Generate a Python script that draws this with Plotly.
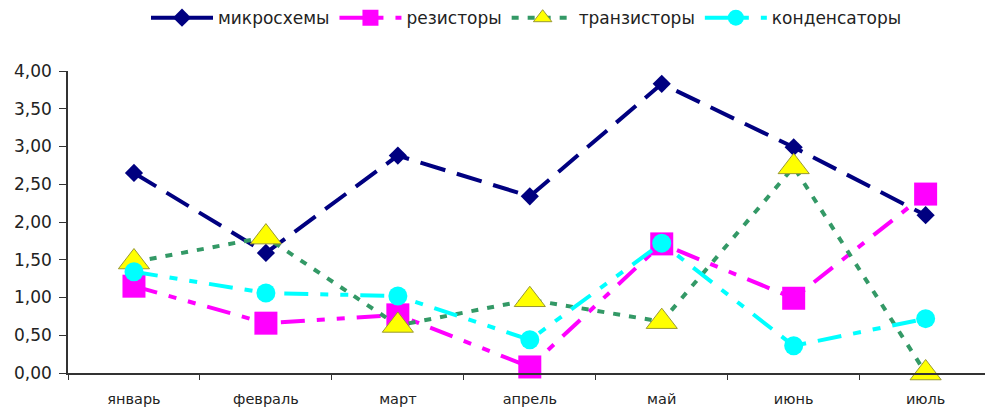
import plotly.graph_objects as go

months = ["январь", "февраль", "март", "апрель", "май", "июнь", "июль"]
mikroshemy = [2.65, 1.59, 2.88, 2.34, 3.83, 2.99, 2.09]
rezistory = [1.15, 0.66, 0.77, 0.08, 1.71, 0.99, 2.37]
tranzistory = [1.47, 1.80, 0.63, 0.97, 0.68, 2.73, 0.00]
kondensatory = [1.34, 1.06, 1.02, 0.44, 1.72, 0.36, 0.72]
y_ticks = [0, 0.5, 1.0, 1.5, 2.0, 2.5, 3.0, 3.5, 4.0]

long_dash_dot_dot = "24px,12px,8px,12px,8px,12px"

series = [
    ("микросхемы", mikroshemy, "#000080", "26px,12px",
     dict(symbol="diamond", size=14, color="#000080")),
    ("резисторы", rezistory, "#FF00FF", long_dash_dot_dot,
     dict(symbol="square", size=23, color="#FF00FF")),
    ("транзисторы", tranzistory, "#339966", "7px,9px",
     dict(symbol="triangle-up", size=27, color="#FFFF00",
          line=dict(color="#999933", width=1))),
    ("конденсаторы", kondensatory, "#00FFFF", long_dash_dot_dot,
     dict(symbol="circle", size=19, color="#00FFFF")),
]

fig = go.Figure()
for name, vals, col, dash, marker in series:
    fig.add_trace(go.Scatter(
        x=months, y=vals, name=name, mode="lines+markers",
        line=dict(color=col, width=4, dash=dash),
        marker=marker, cliponaxis=False,
    ))

font_family = "DejaVu Sans, Liberation Sans, Arial, sans-serif"

fig.update_layout(
    width=985, height=411,
    margin=dict(l=68, r=0, t=71, b=38),
    paper_bgcolor="white", plot_bgcolor="white",
    separators=", ",
    font=dict(family=font_family, size=15, color="#222"),
    showlegend=True,
    legend=dict(orientation="h", x=0.5, xanchor="center", y=1.175, yanchor="middle",
                font=dict(family=font_family, size=17, color="#222"), itemwidth=62,
                bgcolor="rgba(0,0,0,0)"),
    xaxis=dict(
        range=[-0.5, 6.45], showgrid=False, zeroline=False,
        showline=True, linecolor="#333", linewidth=1.5,
        ticks="outside", ticklen=5, tickcolor="#333", tickson="boundaries",
        ticklabelstandoff=12,
        tickfont=dict(family=font_family, size=14.5, color="#222"),
    ),
    yaxis=dict(
        range=[0, 4], tickvals=y_ticks, tickformat=".2f",
        showgrid=False, zeroline=False,
        showline=True, linecolor="#333", linewidth=1.5,
        ticks="outside", ticklen=7, tickcolor="#333",
        ticklabelstandoff=4,
        tickfont=dict(family=font_family, size=17, color="#222"),
    ),
)

fig.write_html("out.html")
